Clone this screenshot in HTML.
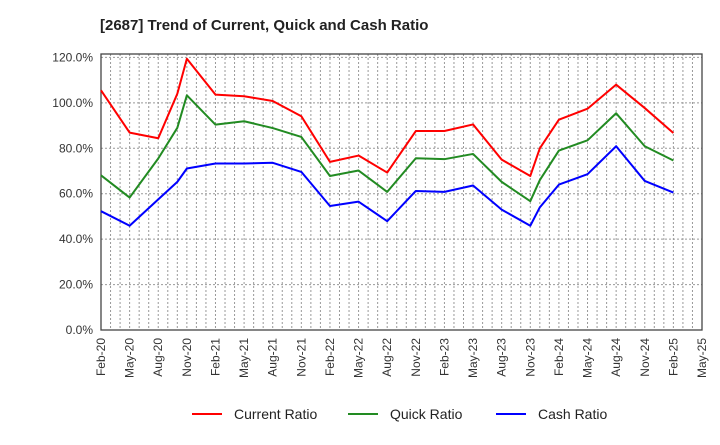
<!DOCTYPE html>
<html><head><meta charset="utf-8"><style>
body{margin:0;background:#fff;font-family:"Liberation Sans",Arial,sans-serif}
</style></head><body>
<svg id="chart" width="720" height="440" xmlns="http://www.w3.org/2000/svg" font-family="Liberation Sans, Arial, sans-serif">
<text x="100" y="30" font-size="15" font-weight="bold" fill="#222">[2687]  Trend of Current, Quick and Cash Ratio</text>
<g id="grid"></g><g id="axes"></g><g id="series"></g><g id="legend"></g>
</svg>
<script>
const months = [0,3,6,8,9,12,15,18,21,24,27,30,33,36,39,42,45,46,48,51,54,57,60];
const currentRatio = [105.5,86.9,84.4,104,119.4,103.6,102.9,100.8,94.1,74,76.8,69.3,87.6,87.6,90.5,75,67.8,80,92.6,97.4,108,97.7,86.7];
const quickRatio = [68.1,58.3,75.5,89,103.3,90.4,91.9,88.9,85,67.8,70.2,60.8,75.6,75.2,77.5,65.2,56.7,66,79,83.5,95.4,80.9,74.6];
const cashRatio = [52.3,45.9,57.5,65.2,71.1,73.3,73.3,73.6,69.6,54.6,56.5,47.9,61.2,60.8,63.6,53,45.9,54,64,68.6,80.9,65.6,60.5];
const yTicks = [0,20,40,60,80,100,120];
const xLabels = ["Feb-20","May-20","Aug-20","Nov-20","Feb-21","May-21","Aug-21","Nov-21","Feb-22","May-22","Aug-22","Nov-22","Feb-23","May-23","Aug-23","Nov-23","Feb-24","May-24","Aug-24","Nov-24","Feb-25","May-25"];

const NS="http://www.w3.org/2000/svg";
const L=101,R=702,T=54,B=330,YMAX=121.5,MMAX=63;
const xs=m=>L+(R-L)*m/MMAX;
const ys=v=>B-(B-T)*v/YMAX;
function mk(tag,attrs,parent){const e=document.createElementNS(NS,tag);for(const k in attrs)e.setAttribute(k,attrs[k]);parent.appendChild(e);return e;}
const grid=document.getElementById('grid'),axes=document.getElementById('axes'),ser=document.getElementById('series'),leg=document.getElementById('legend');
for(let m=1;m<MMAX;m++){
  const l=mk('line',{x1:xs(m),x2:xs(m),y1:T,y2:B,stroke:'#999','stroke-width':1,'stroke-dasharray':'2,2'},grid);
  
  
}
yTicks.forEach(v=>{
  if(v>0){const l=mk('line',{x1:L,x2:R,y1:ys(v),y2:ys(v),stroke:'#999','stroke-width':1,'stroke-dasharray':'2,2'},grid);
  
  }
  const t=mk('text',{x:L-8,y:ys(v)+4,'font-size':12,'text-anchor':'end',fill:'#333'},axes);
  t.textContent=v.toFixed(1)+'%';
  
  
});
const fr=mk('rect',{x:L,y:T,width:R-L,height:B-T,fill:'none',stroke:'#444','stroke-width':1.3},axes);


xLabels.forEach((s,i)=>{
  const x=xs(i*3)+4,y=B+8;
  const t=mk('text',{x:x,y:y,'font-size':12,'text-anchor':'end',fill:'#333',transform:`rotate(-90 ${x} ${y})`},axes);
  t.textContent=s;
  
  
});
function line(vals,color,name){
  const p=mk('polyline',{points:months.map((m,i)=>xs(m)+','+ys(vals[i])).join(' '),fill:'none',stroke:color,'stroke-width':2,'stroke-linejoin':'round'},ser);
  
  
}
line(quickRatio,'#228b22','quick-ratio-line');
line(cashRatio,'#0000ff','cash-ratio-line');
line(currentRatio,'#ff0000','current-ratio-line');
[['Current Ratio','#ff0000',192],['Quick Ratio','#228b22',348],['Cash Ratio','#0000ff',496]].forEach(([n,c,x])=>{
  const g=mk('g',{},leg);
  
  
  mk('line',{x1:x,x2:x+30,y1:414,y2:414,stroke:c,'stroke-width':2},g);
  const t=mk('text',{x:x+42,y:419,'font-size':14,fill:'#222'},g);
  t.textContent=n;
});
</script>
</body></html>
